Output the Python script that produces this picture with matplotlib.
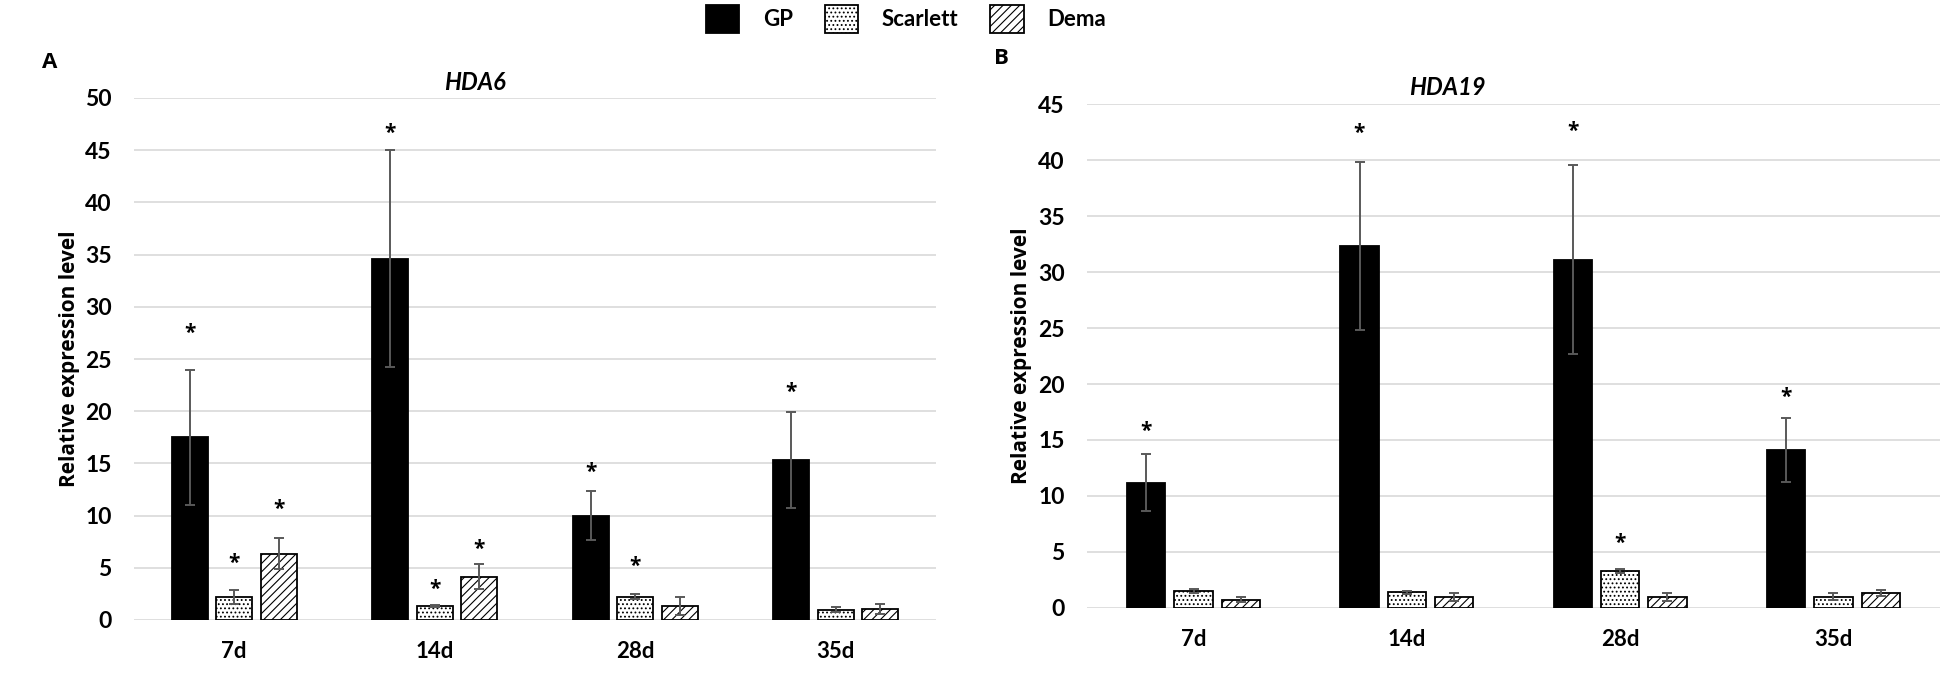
import matplotlib
matplotlib.use("Agg")
import matplotlib.pyplot as plt
import numpy as np

# time points and cultivars
days = ["7d", "14d", "28d", "35d"]
cultivars = ["GP", "Scarlett", "Dema"]

# HDA6 (panel A)
hda6_gp = [17.5, 34.6, 10.0, 15.3]
hda6_gp_err = [6.45, 10.4, 2.35, 4.6]
hda6_sc = [2.2, 1.3, 2.25, 1.0]
hda6_sc_err = [0.65, 0.1, 0.25, 0.25]
hda6_de = [6.35, 4.15, 1.35, 1.05]
hda6_de_err = [1.5, 1.2, 0.9, 0.45]
# star heights (None = no star)
hda6_stars_gp = [28.1, 47.3, 14.8, 22.5]
hda6_stars_sc = [6.1, 3.6, 5.8, None]
hda6_stars_de = [11.3, 7.4, None, None]

# HDA19 (panel B)
hda19_gp = [11.2, 32.3, 31.1, 14.1]
hda19_gp_err = [2.55, 7.5, 8.45, 2.85]
hda19_sc = [1.5, 1.4, 3.3, 1.0]
hda19_sc_err = [0.18, 0.15, 0.2, 0.3]
hda19_de = [0.75, 1.0, 1.0, 1.35]
hda19_de_err = [0.2, 0.35, 0.35, 0.3]
hda19_stars_gp = [16.4, 43.0, 43.2, 19.4]
hda19_stars_sc = [None, None, 6.4, None]
hda19_stars_de = [None, None, None, None]

NUM_FONT = "Lato"
LABEL_FONT = "Open Sans"
GRID = "#d9d9d9"
ERR = "#595959"

styles = [
    dict(color="black", edgecolor="black", hatch=None),
    dict(color="white", edgecolor="black", hatch="...."),
    dict(color="white", edgecolor="black", hatch="////"),
]

plt.rcParams["hatch.linewidth"] = 0.8

fig = plt.figure(figsize=(19.55, 6.84), dpi=100)
ax_a = fig.add_axes([134 / 1955, 64 / 684, 802 / 1955, 522 / 684])
ax_b = fig.add_axes([1087 / 1955, 76 / 684, 853 / 1955, 504 / 684])


def draw_panel(ax, series, errs, stars, ymax, title, title_x, title_y):
    x = np.arange(len(days))
    width = 0.18
    offsets = [-0.222, 0.0, 0.222]
    handles = []
    for vals, err, star, off, st, name in zip(series, errs, stars, offsets, styles, cultivars):
        bars = ax.bar(x + off, vals, width, color=st["color"], edgecolor=st["edgecolor"],
                      hatch=st["hatch"], linewidth=1.3, label=name, zorder=2)
        handles.append(bars)
        ax.errorbar(x + off, vals, yerr=err, fmt="none", ecolor=ERR, elinewidth=1.4,
                    capsize=3.5, capthick=1.4, zorder=3)
        for xi, sy in zip(x + off, star):
            if sy is None:
                continue
            ax.annotate("*", (xi, sy), xytext=(0, -9), textcoords="offset points",
                        ha="center", va="baseline", fontsize=15, fontweight="bold",
                        family=LABEL_FONT)

    ax.set_xlim(-0.5, len(days) - 0.5)
    ax.set_ylim(0, ymax)
    ax.set_yticks(np.arange(0, ymax + 1, 5))
    ax.set_xticks(x)
    ax.set_xticklabels(days, fontsize=16, fontweight="bold", family=NUM_FONT)
    for lab in ax.get_yticklabels():
        lab.set_family(NUM_FONT)
        lab.set_fontsize(16.5)
        lab.set_fontweight("bold")
    ax.tick_params(axis="y", length=0, pad=16)
    ax.tick_params(axis="x", length=0, pad=15)
    ax.grid(axis="y", color=GRID, linewidth=1.2, zorder=0)
    ax.set_axisbelow(True)
    for s in ax.spines.values():
        s.set_visible(False)
    ax.set_ylabel("Relative expression level", fontsize=15, fontweight="bold",
                  family=LABEL_FONT)
    ax.text(title_x, title_y, title, transform=ax.transAxes, ha="center", va="center",
            fontsize=17, fontweight="bold", style="italic", family=NUM_FONT)
    return handles


handles = draw_panel(ax_a, [hda6_gp, hda6_sc, hda6_de],
                     [hda6_gp_err, hda6_sc_err, hda6_de_err],
                     [hda6_stars_gp, hda6_stars_sc, hda6_stars_de], 50, "HDA6",
                     0.425, 1 + 15 / 522)
ax_a.yaxis.set_label_coords(-0.067, 0.5)

draw_panel(ax_b, [hda19_gp, hda19_sc, hda19_de],
           [hda19_gp_err, hda19_sc_err, hda19_de_err],
           [hda19_stars_gp, hda19_stars_sc, hda19_stars_de], 45, "HDA19",
           0.422, 1 + 17 / 504)
ax_b.yaxis.set_label_coords(-0.0645, 0.5)

# panel letters
fig.text(50 / 1955, 1 - 63 / 684, "A", fontsize=16, fontweight="bold", family=LABEL_FONT,
         ha="center", va="center")
fig.text(1001 / 1955, 1 - 59 / 684, "B", fontsize=16, fontweight="bold", family=LABEL_FONT,
         ha="center", va="center")

fig.legend(handles, cultivars, loc="center", bbox_to_anchor=(906 / 1955, 1 - 19 / 684),
           ncol=3, frameon=False, handlelength=1.5, handleheight=1.5, handletextpad=1.05,
           columnspacing=1.45, borderpad=0,
           prop=dict(family=NUM_FONT, weight="bold", size=16))

fig.savefig("out.png", dpi=100)
